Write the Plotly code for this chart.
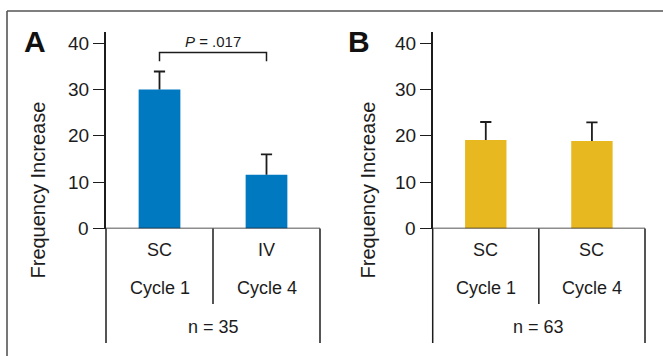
import plotly.graph_objects as go

# ---- data ----
a_routes = ["SC", "IV"]
a_cycles = ["Cycle 1", "Cycle 4"]
a_values = [30.0, 11.6]
a_errors = [3.9, 4.4]
a_n = "n = 35"
a_p = "P = .017"
a_bracket = 38.0
a_bracket_leg = 36.1

b_routes = ["SC", "SC"]
b_cycles = ["Cycle 1", "Cycle 4"]
b_values = [19.1, 18.9]
b_errors = [3.9, 4.0]
b_n = "n = 63"

y_ticks = [0, 10, 20, 30, 40]
y_title = "Frequency Increase"

W, H = 663, 356
FONT = "Liberation Sans, Arial, sans-serif"
INK = "#1c1c1c"
BLUE = "#0079C1"
GOLD = "#E8B820"


def px(x):
    return x / W


def py(y):
    return 1 - y / H


ydom = [py(228.6), py(32)]
yrange = [0, 42.42]
positions = [0, 1]

fig = go.Figure()


def add_panel(values, errors, color, xa, ya):
    fig.add_trace(go.Bar(
        x=positions, y=values, width=0.39, marker_color=color, marker_line_width=0,
        xaxis=xa, yaxis=ya, showlegend=False, hoverinfo="skip"))
    sx, sy = [], []
    for p, v, e in zip(positions, values, errors):
        sx += [p, p, None]
        sy += [v, v + e, None]
    fig.add_trace(go.Scatter(
        x=sx, y=sy, mode="lines", line=dict(color=INK, width=1.8),
        xaxis=xa, yaxis=ya, showlegend=False, hoverinfo="skip"))
    fig.add_trace(go.Scatter(
        x=positions, y=[v + e for v, e in zip(values, errors)], mode="markers",
        marker=dict(symbol="line-ew", size=8, line=dict(color=INK, width=1.8)),
        xaxis=xa, yaxis=ya, showlegend=False, hoverinfo="skip"))


add_panel(a_values, a_errors, BLUE, "x", "y")
add_panel(b_values, b_errors, GOLD, "x2", "y2")

axis_common_x = dict(range=[-0.5, 1.5], showline=False, showticklabels=False,
                     showgrid=False, zeroline=False, ticks="", fixedrange=True,
                     automargin=False)
axis_common_y = dict(range=yrange, tickvals=y_ticks, showline=True, linecolor=INK,
                     linewidth=1.5, ticks="outside", ticklen=11, tickwidth=1.3,
                     tickcolor=INK, showgrid=False, zeroline=False, automargin=False,
                     showticklabels=False, domain=ydom)

fig.update_layout(
    width=W, height=H, margin=dict(l=0, r=0, t=0, b=0),
    paper_bgcolor="white", plot_bgcolor="white",
    xaxis=dict(domain=[px(106), px(320)], anchor="y", **axis_common_x),
    yaxis=dict(anchor="x", **axis_common_y),
    xaxis2=dict(domain=[px(432.7), px(645)], anchor="y2", **axis_common_x),
    yaxis2=dict(anchor="x2", **axis_common_y),
)

shapes = []
line = dict(color=INK, width=1.5)
shapes.append(dict(type="line", xref="paper", yref="paper", x0=px(7), x1=1, y0=py(11), y1=py(11),
                   line=dict(color="#555555", width=1.6)))
shapes.append(dict(type="line", xref="paper", yref="paper", x0=px(7), x1=px(7), y0=py(11), y1=0,
                   line=dict(color="#555555", width=1.6)))

for xr, yr in (("x", "y"), ("x2", "y2")):
    dom = xr + " domain"
    shapes.append(dict(type="line", xref=dom, yref=yr, x0=0, x1=1, y0=0, y1=0, line=line))
    shapes.append(dict(type="line", xref=dom, yref="paper", x0=0, x1=0, y0=ydom[0], y1=py(343), line=line))
    shapes.append(dict(type="line", xref=dom, yref="paper", x0=1, x1=1, y0=ydom[0], y1=py(343), line=line))
    shapes.append(dict(type="line", xref=dom, yref="paper", x0=0.5, x1=0.5, y0=ydom[0], y1=py(304), line=line))

shapes.append(dict(type="path", xref="x", yref="y",
                   path=f"M 0,{a_bracket_leg} L 0,{a_bracket} L 1,{a_bracket} L 1,{a_bracket_leg}",
                   line=line))

annotations = []
txt = dict(family=FONT, size=18, color=INK)

for xr, yr in (("x", "y"), ("x2", "y2")):
    for t in y_ticks:
        annotations.append(dict(x=0, xref=xr + " domain", y=t, yref=yr, text=str(t),
                                showarrow=False, font=dict(family=FONT, size=19, color=INK),
                                xanchor="right", yanchor="middle", xshift=-15))

for xr, routes, cycles, n in (("x", a_routes, a_cycles, a_n), ("x2", b_routes, b_cycles, b_n)):
    for i, (r, c) in enumerate(zip(routes, cycles)):
        annotations.append(dict(x=positions[i], xref=xr, y=py(250), yref="paper", text=r,
                                showarrow=False, font=txt, xanchor="center", yanchor="middle"))
        annotations.append(dict(x=positions[i], xref=xr, y=py(288), yref="paper", text=c,
                                showarrow=False, font=txt, xanchor="center", yanchor="middle"))
    annotations.append(dict(x=0.5, xref=xr + " domain", y=py(327), yref="paper", text=n,
                            showarrow=False, font=txt, xanchor="center", yanchor="middle"))

annotations.append(dict(x=0.5, xref="x", y=40.4, yref="y", text="<i>P</i>" + a_p[1:],
                        showarrow=False, font=dict(family=FONT, size=15, color=INK),
                        xanchor="center", yanchor="middle"))

for label, xc in (("A", 35), ("B", 358.5)):
    annotations.append(dict(x=px(xc), xref="paper", y=py(41), yref="paper", text=f"<b>{label}</b>",
                            showarrow=False, font=dict(family=FONT, size=30, color="#111111"),
                            xanchor="center", yanchor="middle"))

for xc in (37.5, 367.5):
    annotations.append(dict(x=px(xc), xref="paper", y=py(190), yref="paper", text=y_title,
                            textangle=-90, showarrow=False, font=dict(family=FONT, size=20, color=INK),
                            xanchor="center", yanchor="middle"))

fig.update_layout(shapes=shapes, annotations=annotations)
fig.write_html("out.html", config={"displayModeBar": False},
               post_script="document.body.style.margin='0';document.body.style.overflow='hidden';")
